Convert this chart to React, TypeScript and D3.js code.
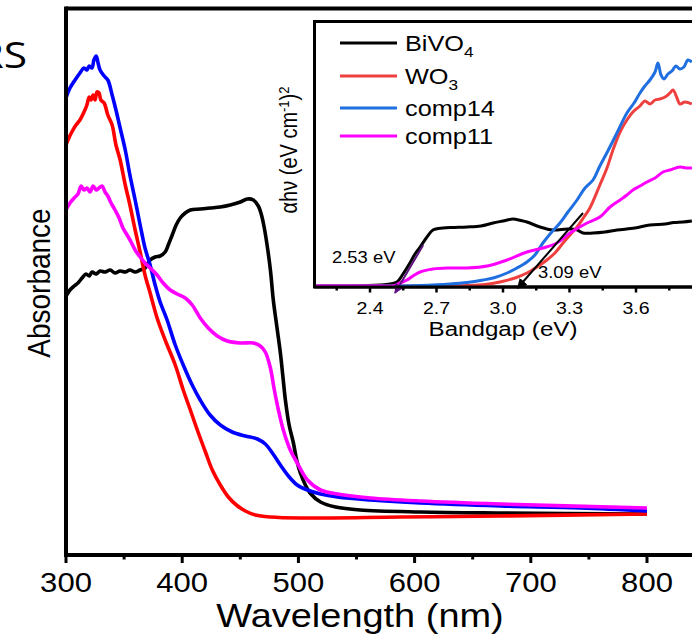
import React from 'react';
import * as d3 from 'd3';

// ---------- Main plot data (wavelength nm, absorbance a.u.) ----------
const WL_BIVO4 = [300, 303.4, 307, 310.3, 313.8, 317.2, 320, 322.4, 326, 329.3, 333.6, 338, 342.2, 346.6, 351, 355, 359.5, 363.8, 368, 372.4, 376.7, 381, 385.3, 388, 391.4, 394.8, 398.3, 402.6, 407, 415.5, 424, 432.8, 441.4, 450, 456, 461.2, 465.5, 468, 470.5, 473.3, 476, 478.4, 481.5, 484.5, 486.7, 488.8, 492, 495.7, 498.5, 501.7, 506, 510, 519, 532, 553, 605, 674, 800];
const ABS_BIVO4 = [2.59, 2.65, 2.69, 2.72, 2.77, 2.81, 2.79, 2.83, 2.81, 2.84, 2.83, 2.85, 2.82, 2.84, 2.83, 2.85, 2.83, 2.85, 2.87, 2.95, 2.98, 2.99, 3.03, 3.1, 3.2, 3.3, 3.37, 3.42, 3.45, 3.46, 3.47, 3.48, 3.5, 3.53, 3.56, 3.55, 3.49, 3.41, 3.28, 3.08, 2.84, 2.55, 2.28, 2.02, 1.78, 1.55, 1.3, 1.12, 0.95, 0.82, 0.7, 0.62, 0.53, 0.48, 0.45, 0.43, 0.42, 0.41];

const WL_WO3 = [300, 301.7, 305, 308.6, 312, 315.5, 318, 320, 321.6, 323.3, 325, 326.7, 328.4, 330, 332.8, 336, 339.7, 343, 346.6, 351, 355, 359.5, 363.8, 368, 372.4, 378.4, 385.3, 394, 400.9, 407, 413, 420, 425.9, 432.8, 439.7, 446.6, 454.3, 463, 476, 501.7, 588, 674, 800];
const ABS_WO3 = [4.1, 4.15, 4.23, 4.3, 4.35, 4.43, 4.5, 4.58, 4.55, 4.6, 4.55, 4.63, 4.62, 4.55, 4.52, 4.4, 4.3, 4.1, 3.95, 3.7, 3.5, 3.25, 3.03, 2.8, 2.62, 2.37, 2.15, 1.9, 1.65, 1.45, 1.25, 1.03, 0.85, 0.7, 0.58, 0.5, 0.44, 0.4, 0.38, 0.37, 0.38, 0.39, 0.41];

const WL_COMP14 = [300, 303.4, 307.8, 312, 315.5, 318, 320, 322.4, 324, 326, 327.6, 329.3, 332.8, 336, 339.7, 343, 346.6, 351, 355, 359.5, 363.8, 368, 372.4, 376.7, 381, 387, 394, 400.9, 408.6, 415.5, 424, 432.8, 443, 454.3, 464.7, 471.5, 477.6, 484.5, 491.4, 499, 507.8, 519, 533.6, 562, 605, 674, 743, 800];
const ABS_COMP14 = [4.57, 4.67, 4.75, 4.82, 4.87, 4.85, 4.89, 4.87, 4.95, 4.99, 4.92, 4.85, 4.79, 4.75, 4.6, 4.45, 4.27, 4.05, 3.8, 3.55, 3.3, 3.07, 2.9, 2.7, 2.53, 2.35, 2.1, 1.9, 1.7, 1.55, 1.4, 1.3, 1.23, 1.19, 1.16, 1.11, 1.02, 0.9, 0.79, 0.7, 0.65, 0.61, 0.58, 0.55, 0.52, 0.49, 0.47, 0.44];

const WL_COMP11 = [300, 303.4, 307, 310.3, 313, 315.5, 318, 320.7, 323.3, 326, 328.4, 331, 333.6, 336, 338.8, 342.2, 345.7, 349, 352.6, 356, 359.5, 363.8, 368, 372.4, 378.4, 383.6, 389.7, 395.7, 402.6, 408.6, 415.5, 422.4, 430.2, 438.8, 450, 461.2, 467.2, 471.5, 475.9, 479.3, 482.8, 487, 493, 499, 507.8, 519, 533.6, 562, 605, 674, 800];
const ABS_COMP11 = [3.45, 3.52, 3.57, 3.61, 3.69, 3.65, 3.67, 3.63, 3.69, 3.65, 3.67, 3.69, 3.63, 3.59, 3.52, 3.45, 3.37, 3.27, 3.2, 3.13, 3.05, 2.98, 2.92, 2.87, 2.8, 2.72, 2.65, 2.61, 2.57, 2.5, 2.37, 2.27, 2.19, 2.14, 2.12, 2.12, 2.09, 2.03, 1.87, 1.65, 1.45, 1.25, 1.05, 0.92, 0.75, 0.65, 0.61, 0.57, 0.54, 0.51, 0.47];

const MAIN_X_TICKS = [300, 400, 500, 600, 700, 800];
const MAIN_X_MINOR = [350, 450, 550, 650, 750, 850];

// ---------- Inset data (photon energy eV, (alpha h nu)^2) ----------
const EV_BIVO4 = [2.143, 2.31, 2.445, 2.49, 2.522, 2.549, 2.58, 2.603, 2.626, 2.657, 2.684, 2.729, 2.78, 2.838, 2.9, 2.955, 3.0, 3.045, 3.08, 3.108, 3.167, 3.225, 3.289, 3.33, 3.361, 3.406, 3.46, 3.514, 3.595, 3.663, 3.731, 3.77, 3.812, 3.852];
const AHV_BIVO4 = [0.01, 0.01, 0.02, 0.03, 0.05, 0.13, 0.24, 0.33, 0.4, 0.5, 0.57, 0.59, 0.595, 0.6, 0.61, 0.64, 0.66, 0.68, 0.665, 0.65, 0.6, 0.57, 0.58, 0.575, 0.54, 0.54, 0.55, 0.57, 0.59, 0.62, 0.63, 0.645, 0.65, 0.66];

const EV_WO3 = [2.143, 2.716, 2.838, 2.919, 2.986, 3.054, 3.108, 3.153, 3.198, 3.234, 3.271, 3.302, 3.334, 3.365, 3.392, 3.437, 3.469, 3.496, 3.528, 3.559, 3.586, 3.618, 3.64, 3.663, 3.686, 3.708, 3.731, 3.753, 3.767, 3.785, 3.798, 3.821, 3.852];
const AHV_WO3 = [0.01, 0.01, 0.015, 0.025, 0.05, 0.09, 0.14, 0.2, 0.27, 0.34, 0.44, 0.52, 0.6, 0.7, 0.79, 1.02, 1.19, 1.37, 1.55, 1.67, 1.75, 1.81, 1.86, 1.83, 1.87, 1.88, 1.9, 1.94, 1.97, 1.89, 1.83, 1.85, 1.83];

const EV_COMP14 = [2.143, 2.535, 2.626, 2.761, 2.838, 2.91, 2.964, 3.018, 3.063, 3.108, 3.144, 3.18, 3.216, 3.257, 3.293, 3.334, 3.37, 3.406, 3.437, 3.473, 3.514, 3.559, 3.591, 3.618, 3.64, 3.663, 3.686, 3.699, 3.713, 3.726, 3.744, 3.762, 3.78, 3.798, 3.816, 3.834, 3.852];
const AHV_COMP14 = [0.01, 0.01, 0.015, 0.03, 0.045, 0.07, 0.095, 0.14, 0.19, 0.25, 0.32, 0.44, 0.54, 0.64, 0.75, 0.87, 0.99, 1.07, 1.21, 1.36, 1.54, 1.74, 1.84, 1.94, 2.01, 2.07, 2.15, 2.24, 2.12, 2.08, 2.13, 2.16, 2.21, 2.18, 2.2, 2.27, 2.25];

const EV_COMP11 = [2.143, 2.445, 2.504, 2.535, 2.567, 2.594, 2.626, 2.684, 2.761, 2.838, 2.928, 3.018, 3.108, 3.18, 3.243, 3.302, 3.379, 3.437, 3.483, 3.528, 3.559, 3.586, 3.618, 3.649, 3.686, 3.722, 3.753, 3.798, 3.825, 3.852];
const AHV_COMP11 = [0.01, 0.01, 0.01, 0.04, 0.07, 0.11, 0.15, 0.18, 0.19, 0.19, 0.21, 0.27, 0.35, 0.39, 0.44, 0.54, 0.64, 0.7, 0.8, 0.87, 0.92, 0.97, 1.01, 1.05, 1.09, 1.15, 1.17, 1.2, 1.19, 1.19];

const INSET_X_TICKS = [2.4, 2.7, 3.0, 3.3, 3.6];
const INSET_X_MINOR = [2.25, 2.55, 2.85, 3.15, 3.45, 3.75];

// tangent (Tauc) lines: [eV, value] start -> end (arrow at end)
const TANGENT_BIVO4 = [[2.64, 0.42], [2.513, -0.06]];
const TANGENT_COMP = [[3.361, 0.74], [3.066, -0.01]];
const BANDGAP_LABELS = ['2.53 eV', '3.09 eV'];

const LEGEND_NAMES = [['BiVO', '4'], ['WO', '3'], ['comp14', ''], ['comp11', '']];

const MAIN_COLORS = ['#000000', '#ff0000', '#0000ff', '#ff00ff'];
const INSET_COLORS = ['#000000', '#ef4040', '#1f6fe0', '#ff00ff'];

const SX = 1.15;
const FONT = "'Liberation Sans', Arial, Helvetica, sans-serif";

function T({ x, y, size, anchor = 'start', rotate = 0, children, family = FONT }: any) {
  return (
    <text
      transform={`translate(${x},${y}) scale(${SX},1)${rotate ? ` rotate(${rotate})` : ''}`}
      fontSize={size}
      textAnchor={anchor}
      fontFamily={family}
      fill="#000"
    >
      {children}
    </text>
  );
}

export default function App() {
  // main scales
  const x = d3.scaleLinear().domain([300, 800]).range([66, 647]);
  const y = d3.scaleLinear().domain([0, 5.46]).range([555, 9]);
  const mainLine = (xs: number[], ys: number[]) =>
    d3.line<number>().x((_, i) => x(xs[i])).y((d) => y(d)).curve(d3.curveCatmullRom.alpha(0.5))(ys) || '';

  const mainSeries = [
    [WL_BIVO4, ABS_BIVO4],
    [WL_WO3, ABS_WO3],
    [WL_COMP14, ABS_COMP14],
    [WL_COMP11, ABS_COMP11],
  ];

  // inset scales
  const ix = d3.scaleLinear().domain([2.4, 3.6]).range([370, 636]);
  const iy = d3.scaleLinear().domain([0, 2.66]).range([287, 21]);
  const insetLine = (xs: number[], ys: number[]) =>
    d3.line<number>().x((_, i) => ix(xs[i])).y((d) => iy(d)).curve(d3.curveCatmullRom.alpha(0.5))(ys) || '';
  const insetSeries = [
    [EV_BIVO4, AHV_BIVO4],
    [EV_WO3, AHV_WO3],
    [EV_COMP14, AHV_COMP14],
    [EV_COMP11, AHV_COMP11],
  ];

  const legendY = [43, 76, 108, 136];

  return (
    <svg
      width={692}
      height={636}
      style={{ position: 'absolute', left: 0, top: 0, background: '#fff' }}
      xmlns="http://www.w3.org/2000/svg"
    >
      <defs>
        <marker id="arrBlack" viewBox="0 0 10 10" refX="9" refY="5" markerWidth="5" markerHeight="5" orient="auto" markerUnits="strokeWidth">
          <path d="M0,0 L10,5 L0,10 z" fill="#000" />
        </marker>
        <marker id="arrPurple" viewBox="0 0 10 10" refX="9" refY="5" markerWidth="5" markerHeight="5" orient="auto" markerUnits="strokeWidth">
          <path d="M0,0 L10,5 L0,10 z" fill="#5e1380" />
        </marker>
        <clipPath id="insetClip">
          <rect x={316} y={23} width={400} height={263} />
        </clipPath>
      </defs>
      <rect x={0} y={0} width={692} height={636} fill="#fff" />

      {/* corner text (partly cut off at the left edge, as in the source figure) */}
      <text
        transform={`translate(27,68) scale(${SX},1)`}
        fontSize={37}
        textAnchor="end"
        fontFamily="'Open Sans', 'Liberation Sans', sans-serif"
      >
        RS
      </text>

      {/* main curves */}
      {mainSeries.map(([xs, ys], i) => (
        <path key={i} d={mainLine(xs, ys)} fill="none" stroke={MAIN_COLORS[i]} strokeWidth={3.6} strokeLinejoin="round" />
      ))}

      {/* main frame */}
      <line x1={66} x2={700} y1={8.5} y2={8.5} stroke="#000" strokeWidth={4} />
      <line x1={66} x2={66} y1={6.5} y2={557} stroke="#000" strokeWidth={4} />
      <line x1={64} x2={700} y1={555} y2={555} stroke="#000" strokeWidth={4} />
      {MAIN_X_TICKS.map((t) => (
        <line key={'M' + t} x1={x(t)} x2={x(t)} y1={555} y2={563} stroke="#000" strokeWidth={3} />
      ))}
      {MAIN_X_MINOR.map((t) => (
        <line key={'m' + t} x1={x(t)} x2={x(t)} y1={555} y2={559.5} stroke="#000" strokeWidth={3} />
      ))}
      {MAIN_X_TICKS.map((t) => (
        <T key={'L' + t} x={x(t)} y={592} size={27} anchor="middle">{t}</T>
      ))}
      <T x={360} y={627} size={33} anchor="middle">Wavelength (nm)</T>
      <T x={50} y={283} size={28} anchor="middle" rotate={-90}>Absorbance</T>

      {/* inset */}
      <rect x={314.5} y={21.5} width={420} height={265.5} fill="#fff" stroke="#000" strokeWidth={3} />
      <g clipPath="url(#insetClip)">
        {insetSeries.map(([xs, ys], i) => (
          <path key={i} d={insetLine(xs, ys)} fill="none" stroke={INSET_COLORS[i]} strokeWidth={3} strokeLinejoin="round" />
        ))}
      </g>
      <line
        x1={ix(TANGENT_BIVO4[0][0])} y1={iy(TANGENT_BIVO4[0][1])}
        x2={ix(TANGENT_BIVO4[1][0])} y2={iy(TANGENT_BIVO4[1][1])}
        stroke="#5e1380" strokeWidth={2} markerEnd="url(#arrPurple)"
      />
      <line
        x1={ix(TANGENT_COMP[0][0])} y1={iy(TANGENT_COMP[0][1])}
        x2={ix(TANGENT_COMP[1][0])} y2={iy(TANGENT_COMP[1][1])}
        stroke="#000" strokeWidth={2} markerEnd="url(#arrBlack)"
      />
      <T x={332} y={263} size={16} anchor="start">{BANDGAP_LABELS[0]}</T>
      <T x={538} y={278} size={16} anchor="start">{BANDGAP_LABELS[1]}</T>
      <line x1={314.5} x2={700} y1={287} y2={287} stroke="#000" strokeWidth={3} />
      {INSET_X_TICKS.map((t) => (
        <line key={'IM' + t} x1={ix(t)} x2={ix(t)} y1={287} y2={292.5} stroke="#000" strokeWidth={2.5} />
      ))}
      {INSET_X_MINOR.map((t) => (
        <line key={'Im' + t} x1={ix(t)} x2={ix(t)} y1={287} y2={290.5} stroke="#000" strokeWidth={2.5} />
      ))}
      {INSET_X_TICKS.map((t) => (
        <T key={'IL' + t} x={ix(t)} y={314} size={17} anchor="middle">{t.toFixed(1)}</T>
      ))}
      <T x={503} y={336} size={21} anchor="middle">Bandgap (eV)</T>
      <text
        transform={`translate(297,150) scale(${SX},1) rotate(-90)`}
        fontSize={20}
        textAnchor="middle"
        fontFamily={FONT}
      >
        αhν (eV cm<tspan dy={-7} fontSize={13}>-1</tspan><tspan dy={7}>)</tspan><tspan dy={-7} fontSize={13}>2</tspan>
      </text>

      {/* legend */}
      {LEGEND_NAMES.map(([name, sub], i) => (
        <g key={name}>
          <line x1={340} x2={397} y1={legendY[i]} y2={legendY[i]} stroke={INSET_COLORS[i]} strokeWidth={3} />
          <text
            transform={`translate(405,${legendY[i] + 8}) scale(${SX},1)`}
            fontSize={22}
            fontFamily={FONT}
          >
            {name}
            {sub ? <tspan dy={6} fontSize={15}>{sub}</tspan> : null}
          </text>
        </g>
      ))}
    </svg>
  );
}
